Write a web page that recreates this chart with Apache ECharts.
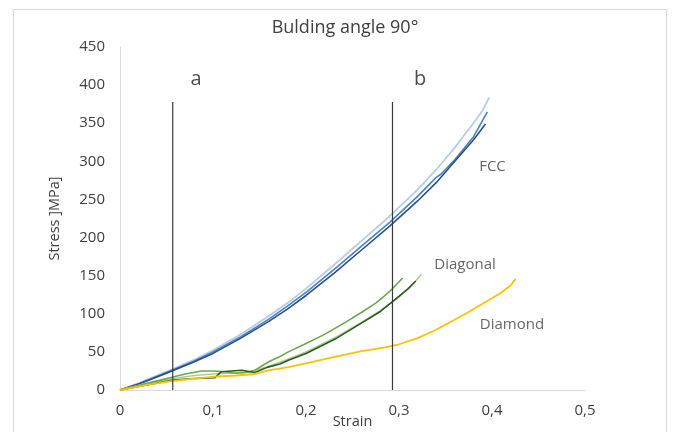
<!DOCTYPE html>
<html><head><meta charset="utf-8">
<script src="https://cdn.jsdelivr.net/npm/echarts@6/dist/echarts.min.js"></script>
<style>html,body{margin:0;padding:0;background:#fff}#c{width:675px;height:432px}</style>
</head><body><div id="c"></div>
<script>
var xTicks = [0, 0.1, 0.2, 0.3, 0.4, 0.5];
var yTicks = [0, 50, 100, 150, 200, 250, 300, 350, 400, 450];

var fccLightStrain = [0,0.02,0.05,0.08,0.1,0.13,0.16,0.18,0.2,0.23,0.26,0.29,0.32,0.34,0.36,0.38,0.39,0.397];
var fccLightStress = [0,9,24,40,52,73,97,114,133,164,196,228,263,289,318,350,367,384];
var fccMedStrain = [0,0.02,0.05,0.08,0.1,0.13,0.16,0.18,0.2,0.23,0.26,0.29,0.32,0.34,0.345,0.36,0.38,0.395];
var fccMedStress = [0,8,23,38,50,70,93,110,128,158,189,220,254,279,283,302,332,365];
var fccDarkStrain = [0,0.02,0.05,0.08,0.1,0.13,0.16,0.18,0.2,0.23,0.26,0.29,0.32,0.34,0.36,0.38,0.393];
var fccDarkStress = [0,8,22,37,48,68,90,106,124,153,184,215,248,272,300,328,349];

var diagMedStrain = [0,0.02,0.04,0.057,0.07,0.088,0.1,0.113,0.125,0.135,0.145,0.16,0.172,0.181,0.2,0.22,0.244,0.26,0.275,0.288,0.297,0.304];
var diagMedStress = [0,6,12,17,21,25,25,24,22,23,26,37,44,50,61,73,90,102,114,127,138,147];
var diagLightStrain = [0,0.03,0.057,0.08,0.1,0.12,0.14,0.16,0.18,0.2,0.233,0.26,0.28,0.3,0.318,0.324];
var diagLightStress = [0,9,15,19,21,22,24,31,40,50,70,89,104,122,143,152];
var diagDarkStrain = [0,0.03,0.057,0.08,0.102,0.109,0.12,0.131,0.14,0.145,0.159,0.172,0.181,0.2,0.233,0.26,0.28,0.293,0.31,0.318];
var diagDarkStress = [0,7,13,15,16,24,25,26,24,23,30,34,39,48,68,88,103,116,133,143];

var diamStrain = [0,0.03,0.057,0.08,0.102,0.125,0.145,0.161,0.181,0.2,0.233,0.26,0.285,0.3,0.32,0.34,0.373,0.409,0.42,0.4255];
var diamStress = [0,7,12,15,17.5,19,21,26,30,35,44,51,56,60,68,79,101,127,137,146];

var lineA = 0.0567, lineB = 0.293, lineTop = 378;

var annotations = [
  {name: 'a', value: [0.0817, 407], size: 20},
  {name: 'b', value: [0.3226, 407], size: 20},
  {name: 'FCC', value: [0.4005, 293], size: 15},
  {name: 'Diagonal', value: [0.371, 164], size: 15},
  {name: 'Diamond', value: [0.4215, 85], size: 15}
];

function pairs(xs, ys) { return xs.map(function (x, i) { return [x, ys[i]]; }); }
function curve(name, xs, ys, color, w) {
  return { name: name, type: 'line', data: pairs(xs, ys), showSymbol: false, symbol: 'none',
    smooth: false,
    lineStyle: { color: color, width: w || 1.6, join: 'round' }, itemStyle: { color: color }, silent: true, z: 3 };
}
function vline(x) {
  return { type: 'line', data: [[x, 0], [x, lineTop]], showSymbol: false, symbol: 'none',
    lineStyle: { color: '#3a3a3a', width: 1.2 }, silent: true, z: 4 };
}
var FONT = 'Open Sans';
var chart = echarts.init(document.getElementById('c'), null, { renderer: 'canvas' });
chart.setOption({
  animation: false,
  backgroundColor: '#fff',
  title: { text: 'Bulding angle 90°', left: 340, top: 14, textAlign: 'center',
    textStyle: { fontFamily: FONT, fontSize: 18, fontWeight: 'normal', color: '#404040' } },
  graphic: [{ type: 'rect', shape: { x: 13.5, y: 9.5, width: 653, height: 440 },
    style: { fill: 'none', stroke: '#d9d9d9', lineWidth: 1 }, silent: true, z: -1 }],
  grid: { left: 120, right: 90, top: 47, bottom: 42, containLabel: false, outerBoundsMode: 'none' },
  xAxis: { type: 'value', min: xTicks[0], max: xTicks[xTicks.length - 1], interval: 0.1,
    name: 'Strain', nameLocation: 'middle', nameGap: 24, nameMoveOverlap: false,
    nameTextStyle: { fontFamily: FONT, fontSize: 14.5, color: '#404040' },
    axisLine: { show: true, lineStyle: { color: '#d9d9d9', width: 1 } },
    axisTick: { show: false }, splitLine: { show: false },
    axisLabel: { fontFamily: FONT, fontSize: 15, color: '#404040', margin: 13,
      formatter: function (v) { return v === 0 ? '0' : v.toFixed(1).replace('.', ','); } } },
  yAxis: { type: 'value', min: yTicks[0], max: yTicks[yTicks.length - 1], interval: 50,
    name: 'Stress ]MPa]', nameLocation: 'middle', nameGap: 58, nameRotate: 90, nameMoveOverlap: false,
    nameTextStyle: { fontFamily: FONT, fontSize: 14.5, color: '#404040' },
    axisLine: { show: true, lineStyle: { color: '#d9d9d9', width: 1 } },
    axisTick: { show: false }, splitLine: { show: false },
    axisLabel: { fontFamily: FONT, fontSize: 15, color: '#404040', margin: 15 } },
  series: [
    curve('FCC 1', fccLightStrain, fccLightStress, '#b4cde9', 1.8),
    curve('FCC 2', fccMedStrain, fccMedStress, '#4a82c2', 1.6),
    curve('FCC 3', fccDarkStrain, fccDarkStress, '#2a4f86', 1.6),
    curve('Diagonal 1', diagLightStrain, diagLightStress, '#a9d18e', 1.6),
    curve('Diagonal 2', diagMedStrain, diagMedStress, '#6aa84f', 1.6),
    curve('Diagonal 3', diagDarkStrain, diagDarkStress, '#2f5a22', 1.6),
    curve('Diamond', diamStrain, diamStress, '#ffc000', 1.8),
    vline(lineA), vline(lineB),
    { type: 'scatter', symbolSize: 0, silent: true, z: 5,
      data: annotations.map(function (a) {
        return { value: a.value, name: a.name,
          label: { show: true, position: 'inside', formatter: a.name,
            fontFamily: FONT, fontSize: a.size, color: a.size > 16 ? '#202020' : '#404040' } };
      }) }
  ]
});
</script></body></html>
